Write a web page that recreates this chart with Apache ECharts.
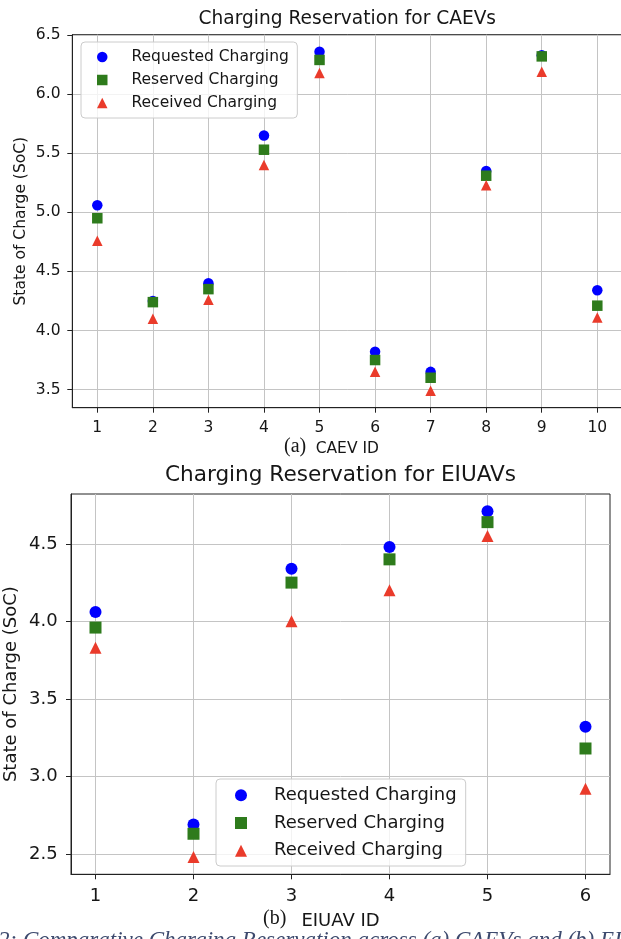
<!DOCTYPE html>
<html>
<head>
<meta charset="utf-8">
<script src="https://cdn.jsdelivr.net/npm/echarts@6/dist/echarts.min.js"></script>
<style>
  html, body { margin: 0; padding: 0; background: #ffffff; }
  #chart { width: 621px; height: 939px; }
</style>
</head>
<body>
<div id="chart"></div>
<script>
// ---- CAEV charging reservation (state of charge) ----
const caevIds = [1, 2, 3, 4, 5, 6, 7, 8, 9, 10];
const caevRequested = [5.06, 4.25, 4.40, 5.65, 6.36, 3.82, 3.65, 5.35, 6.33, 4.34];
const caevReserved  = [4.95, 4.24, 4.35, 5.53, 6.29, 3.75, 3.60, 5.31, 6.32, 4.21];
const caevReceived  = [4.76, 4.10, 4.26, 5.40, 6.18, 3.65, 3.49, 5.23, 6.19, 4.11];
const caevYTicks = [3.5, 4.0, 4.5, 5.0, 5.5, 6.0, 6.5];

// ---- EIUAV charging reservation (state of charge) ----
const eiuavIds = [1, 2, 3, 4, 5, 6];
const eiuavRequested = [4.06, 2.69, 4.34, 4.48, 4.71, 3.32];
const eiuavReserved  = [3.96, 2.63, 4.25, 4.40, 4.64, 3.18];
const eiuavReceived  = [3.83, 2.48, 4.00, 4.20, 4.55, 2.92];
const eiuavYTicks = [2.5, 3.0, 3.5, 4.0, 4.5];

const seriesNames = ['Requested Charging', 'Reserved Charging', 'Received Charging'];
const titles = ['Charging Reservation for CAEVs', 'Charging Reservation for EIUAVs'];
const xNames = ['CAEV ID', 'EIUAV ID'];
const subLabels = ['(a)', '(b)'];
const yName = 'State of Charge (SoC)';
const caption = '2: Comparative Charging Reservation across (a) CAEVs and (b) EIUAVs';

const COLORS = ['#0000ff', '#2e7b1c', '#ea3b2b'];
const SYMBOLS = ['circle', 'rect', 'triangle'];
const FONT = 'DejaVu Sans, Verdana, sans-serif';
const INK = '#161616';
const GRIDLINE = '#c4c4c4';

// margins of 5% around the data range, as in the plotting defaults
function padRange(values) {
  const lo = Math.min(...values), hi = Math.max(...values);
  const m = (hi - lo) * 0.05;
  return [lo - m, hi + m];
}

function pairs(xs, ys) { return xs.map((x, i) => [x, ys[i]]); }

const panels = [
  {
    ids: caevIds, vals: [caevRequested, caevReserved, caevReceived], yTicks: caevYTicks,
    grid: { left: 72.3, top: 34.7, width: 550, height: 373 },
    font: 15.5, titleFont: 18.6, titleCenterY: 19, markSize: 10.5,
    labelMargin: 11.8, xNameGap: 32, yNameGap: 42
  },
  {
    ids: eiuavIds, vals: [eiuavRequested, eiuavReserved, eiuavReceived], yTicks: eiuavYTicks,
    grid: { left: 71, top: 494, width: 539, height: 380.3 },
    font: 18, titleFont: 21.6, titleCenterY: 475, markSize: 12,
    labelMargin: 13.4, xNameGap: 36.5, yNameGap: 49.5
  }
];

const option = {
  animation: false,
  backgroundColor: '#ffffff',
  title: [], grid: [], xAxis: [], yAxis: [], series: [], legend: [], graphic: []
};

panels.forEach((p, k) => {
  const g = p.grid;
  const cx = g.left + g.width / 2;
  option.grid.push(Object.assign({
    show: true, borderColor: '#222', borderWidth: 1, backgroundColor: 'transparent',
    containLabel: false, outerBoundsMode: 'none'
  }, g));

  option.title.push({
    text: titles[k], left: cx, top: p.titleCenterY - p.titleFont * 0.6, textAlign: 'center', padding: 0,
    textStyle: { fontFamily: FONT, fontSize: p.titleFont, fontWeight: 'normal', color: INK, lineHeight: p.titleFont * 1.2 }
  });

  const xr = padRange(p.ids);
  const yr = padRange([].concat(...p.vals));
  const labelStyle = { fontFamily: FONT, fontSize: p.font, color: INK };

  option.xAxis.push({
    type: 'value', gridIndex: k, min: xr[0], max: xr[1],
    axisLine: { show: true, onZero: false, lineStyle: { color: '#222', width: 1 } },
    axisTick: { show: true, inside: false, length: 5, customValues: p.ids, lineStyle: { color: '#222', width: 1 } },
    axisLabel: Object.assign({ customValues: p.ids, margin: p.labelMargin }, labelStyle),
    splitLine: { show: true, lineStyle: { color: GRIDLINE, width: 1 } },
    name: xNames[k], nameLocation: 'middle', nameGap: p.xNameGap, nameMoveOverlap: false,
    nameTextStyle: { fontFamily: FONT, fontSize: p.font, color: INK, lineHeight: p.font * 1.15 }
  });

  option.yAxis.push({
    type: 'value', gridIndex: k, min: yr[0], max: yr[1],
    axisLine: { show: true, onZero: false, lineStyle: { color: '#222', width: 1 } },
    axisTick: { show: true, inside: false, length: 5, customValues: p.yTicks, lineStyle: { color: '#222', width: 1 } },
    axisLabel: Object.assign({ customValues: p.yTicks, margin: p.labelMargin, formatter: v => v.toFixed(1) }, labelStyle),
    splitLine: { show: true, lineStyle: { color: GRIDLINE, width: 1 } },
    name: yName, nameLocation: 'middle', nameGap: p.yNameGap, nameRotate: 90, nameMoveOverlap: false,
    nameTextStyle: { fontFamily: FONT, fontSize: p.font, color: INK, lineHeight: p.font * 1.15 }
  });

  seriesNames.forEach((name, s) => {
    option.series.push({
      type: 'scatter', name: name, xAxisIndex: k, yAxisIndex: k,
      symbol: SYMBOLS[s], symbolSize: p.markSize,
      itemStyle: { color: COLORS[s], opacity: 1 },
      emphasis: { disabled: true },
      data: pairs(p.ids, p.vals[s])
    });
  });

  // sub-figure label placed to the left of the axis title
  option.graphic.push({
    type: 'text', z: 10,
    left: k === 0 ? 284 : 263,
    top: (k === 0 ? 448 : 920) - 11,
    style: { text: subLabels[k], font: '20px "Liberation Serif", "DejaVu Serif", serif', fill: INK }
  });
});

// legend boxes (square icon area so the markers keep their shape)
option.legend.push({
  data: seriesNames, orient: 'vertical', left: 81, top: 42,
  padding: [6.5, 8.5, 6.5, 16], itemGap: 6, itemWidth: 10.5, itemHeight: 10.5,
  backgroundColor: 'rgba(255,255,255,0.8)', borderColor: '#cccccc', borderWidth: 1, borderRadius: 4,
  selectedMode: false,
  textStyle: { fontFamily: FONT, fontSize: 15.5, color: INK, lineHeight: 17, padding: [0, 0, 0, 19] }
});
option.legend.push({
  data: seriesNames, orient: 'vertical', left: 216, top: 779,
  padding: [6.3, 9, 5.3, 19], itemGap: 7.7, itemWidth: 12, itemHeight: 12,
  backgroundColor: 'rgba(255,255,255,0.8)', borderColor: '#cccccc', borderWidth: 1, borderRadius: 4,
  selectedMode: false,
  textStyle: { fontFamily: FONT, fontSize: 18, color: INK, lineHeight: 20, padding: [0, 0, 0, 22] }
});

// figure caption running along the bottom edge
option.graphic.push({
  type: 'text', left: -2, top: 929, z: 10,
  style: { text: caption, font: 'italic 23px "Liberation Serif", "DejaVu Serif", serif', fill: '#3d4a6e' }
});

const chart = echarts.init(document.getElementById('chart'), null, { renderer: 'canvas' });
chart.setOption(option);
</script>
</body>
</html>
